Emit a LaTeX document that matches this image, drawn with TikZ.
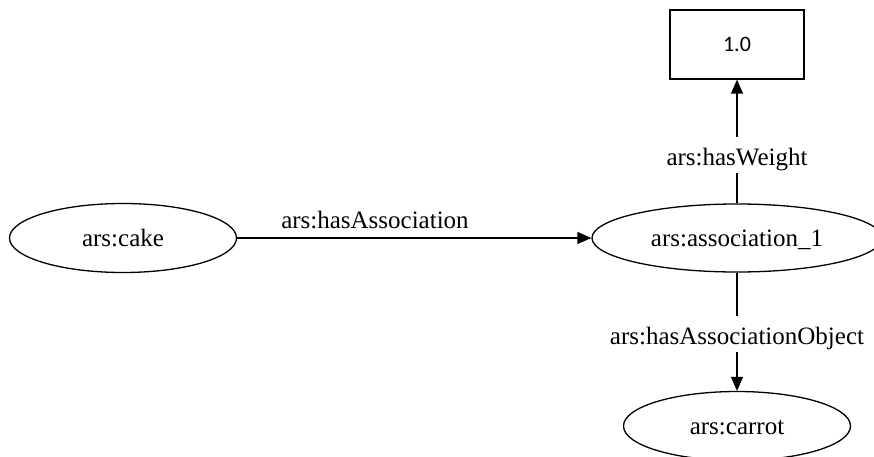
\documentclass[tikz,border=0pt]{standalone}
\usepackage{fontspec}
\setmainfont{Liberation Serif}
\newfontfamily\valuefont{Carlito}
\usetikzlibrary{shapes.geometric,arrows.meta}

\begin{document}
\begin{tikzpicture}[x=1pt,y=-1pt,
  every node/.style={font=\fontsize{25}{30}\selectfont},
  resource/.style={draw, ellipse, line width=1.3pt, inner sep=0pt,
    text height=17pt, text depth=0pt},
  literal/.style={draw, rectangle, line width=1.3pt, inner sep=0pt,
    minimum width=134pt, minimum height=69pt,
    font=\valuefont\fontsize{22}{26}\selectfont},
  rel/.style={line width=1.3pt, -{Triangle[length=14pt,width=12pt]}},
  rellabel/.style={fill=white, inner xsep=2pt, inner ysep=3pt,
    text height=25pt, text depth=5pt, anchor=base}
]
\useasboundingbox (0,0) rectangle (874,457);

% nodes
\node[resource, minimum width=227pt, minimum height=69pt] (cake) at (123,238) {ars:cake};
\node[resource, minimum width=290pt, minimum height=68pt] (assoc) at (737,238) {ars:association\_1};
\node[literal] (weight) at (737,44.5) {1.0};
\node[resource, minimum width=227pt, minimum height=69pt] (carrot) at (737,426) {ars:carrot};

% relations
\draw[rel] (cake) -- (assoc);
\draw[rel] (assoc) -- (weight);
\draw[rel] (assoc) -- (carrot);

% relation labels
\node[anchor=base, inner sep=0pt] (lblassoc) at (375,228) {ars:hasAssociation};
\node[rellabel] (lblweight) at (737,165) {ars:hasWeight};
\node[rellabel] (lblobject) at (737,344) {ars:hasAssociationObject};
\end{tikzpicture}
\end{document}
